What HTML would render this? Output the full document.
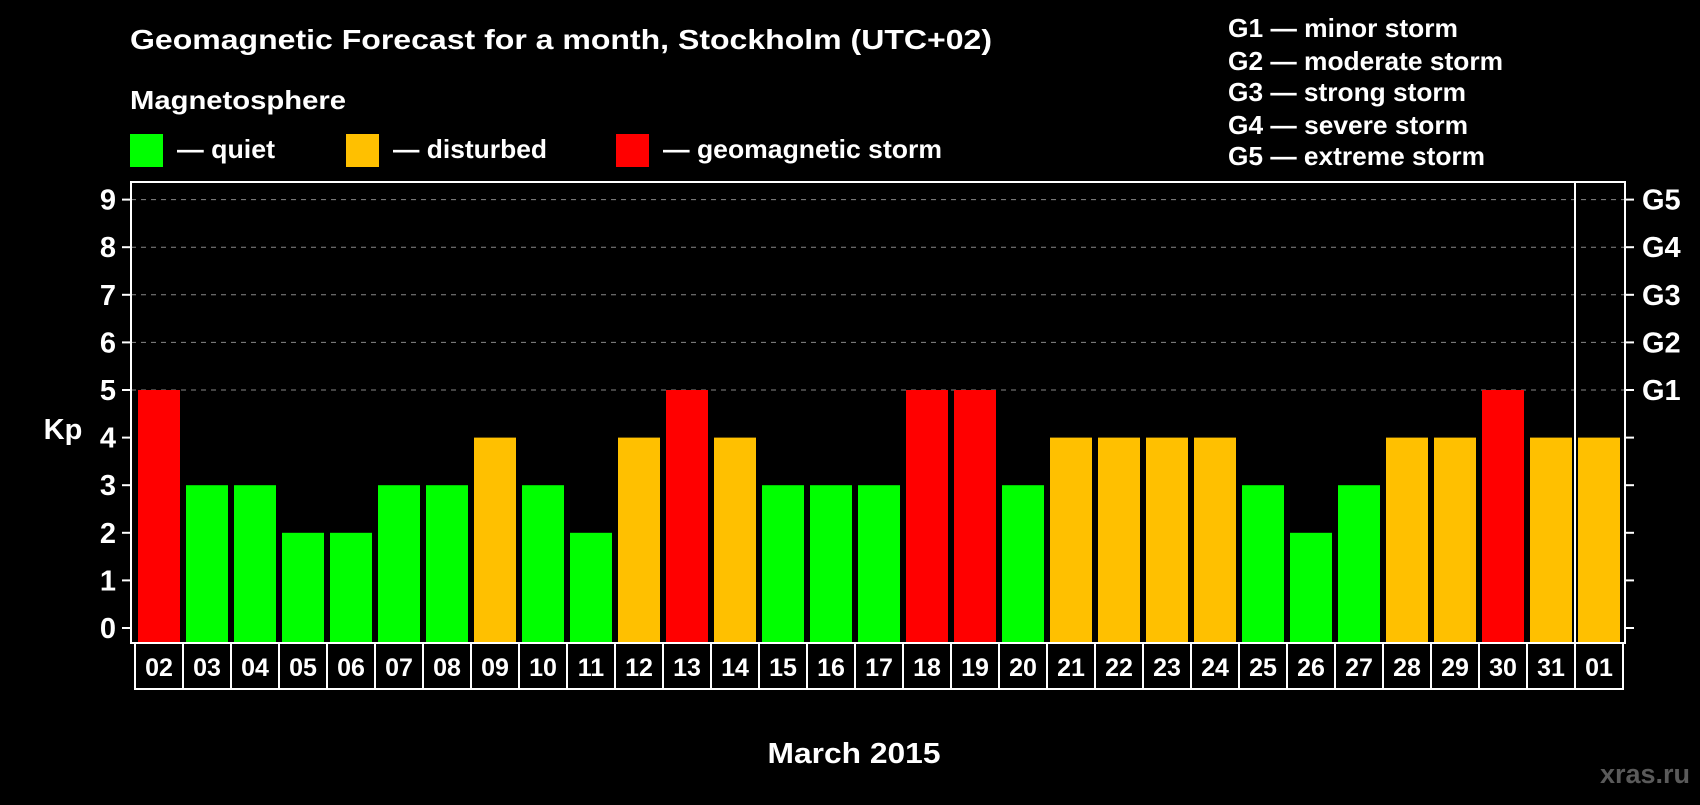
<!DOCTYPE html>
<html><head><meta charset="utf-8"><style>
body{margin:0;background:#000;width:1700px;height:800px;overflow:hidden;font-family:"Liberation Sans",sans-serif;}
text{font-family:"Liberation Sans",sans-serif;font-weight:bold;fill:#fff;}
</style></head><body>
<svg id="chart" width="1700" height="800" xmlns="http://www.w3.org/2000/svg">
<text x="130" y="49" font-size="28" textLength="862" lengthAdjust="spacingAndGlyphs">Geomagnetic Forecast for a month, Stockholm (UTC+02)</text>
<text x="130" y="109" font-size="26" textLength="216" lengthAdjust="spacingAndGlyphs">Magnetosphere</text>
<g><rect x="130" y="134" width="33" height="33" fill="#00ff00"/><text x="177" y="158" font-size="26" textLength="98" lengthAdjust="spacingAndGlyphs">— quiet</text></g>
<g><rect x="346" y="134" width="33" height="33" fill="#ffc000"/><text x="393" y="158" font-size="26" textLength="154" lengthAdjust="spacingAndGlyphs">— disturbed</text></g>
<g><rect x="616" y="134" width="33" height="33" fill="#ff0000"/><text x="663" y="158" font-size="26" textLength="279" lengthAdjust="spacingAndGlyphs">— geomagnetic storm</text></g>
<g font-size="26">
<text x="1228" y="37" textLength="230" lengthAdjust="spacingAndGlyphs">G1 — minor storm</text>
<text x="1228" y="70" textLength="275" lengthAdjust="spacingAndGlyphs">G2 — moderate storm</text>
<text x="1228" y="101" textLength="238" lengthAdjust="spacingAndGlyphs">G3 — strong storm</text>
<text x="1228" y="134" textLength="240" lengthAdjust="spacingAndGlyphs">G4 — severe storm</text>
<text x="1228" y="165" textLength="257" lengthAdjust="spacingAndGlyphs">G5 — extreme storm</text>
</g>
<g id="grid"></g>
<g id="bars"></g>
<rect x="131" y="182" width="1494" height="461" fill="none" stroke="#fff" stroke-width="2"/>
<line x1="1575" y1="182" x2="1575" y2="643" stroke="#fff" stroke-width="2"/>
<g id="axes"></g>
<g id="xlabels"></g>
<text x="63" y="439" font-size="29" text-anchor="middle">Kp</text>
<text x="854" y="763" font-size="29" text-anchor="middle" textLength="173" lengthAdjust="spacingAndGlyphs">March 2015</text>
<text x="1690" y="783" font-size="27" text-anchor="end" style="fill:#5a5a5a">xras.ru</text>
</svg>
<script>
const days=["02","03","04","05","06","07","08","09","10","11","12","13","14","15","16","17","18","19","20","21","22","23","24","25","26","27","28","29","30","31","01"];
const kp=[5,3,3,2,2,3,3,4,3,2,4,5,4,3,3,3,5,5,3,4,4,4,4,3,2,3,4,4,5,4,4];
const yTicks=[0,1,2,3,4,5,6,7,8,9];
const gLabels=["G1","G2","G3","G4","G5"];
const NS="http://www.w3.org/2000/svg";
const y=v=>628-v*47.6;
const x=i=>135+i*48;
function mk(t,a,p){const e=document.createElementNS(NS,t);for(const k in a)e.setAttribute(k,a[k]);p.appendChild(e);return e;}
const grid=document.getElementById('grid'),bars=document.getElementById('bars'),axes=document.getElementById('axes'),xl=document.getElementById('xlabels');
yTicks.forEach(v=>{
 if(v>=5){const g=mk('line',{x1:131,x2:1625,y1:y(v),y2:y(v),stroke:'#888','stroke-dasharray':'5,5','stroke-width':1},grid);
 
 }
 const tl=mk('line',{x1:122,x2:131,y1:y(v),y2:y(v),stroke:'#fff','stroke-width':2},axes);
 
 
 const tr=mk('line',{x1:1625,x2:1634,y1:y(v),y2:y(v),stroke:'#fff','stroke-width':2},axes);
 
 
 const t=mk('text',{x:116,y:y(v)+10,'font-size':29,'text-anchor':'end'},axes);t.textContent=v;
 
 
});
gLabels.forEach((g,i)=>{const t=mk('text',{x:1642,y:y(5+i)+10,'font-size':29},axes);t.textContent=g;
 
 });
kp.forEach((v,i)=>{
 const c=v>=5?'#ff0000':v>=4?'#ffc000':'#00ff00';
 const r=mk('rect',{x:x(i)+3,y:y(v),width:42,height:y(0)-y(v)+14,fill:c},bars);
 
 
 const b=mk('rect',{x:x(i),y:643,width:48,height:46,fill:'none',stroke:'#fff','stroke-width':2},xl);
 
 
 const t=mk('text',{x:x(i)+24,y:676,'font-size':25,'text-anchor':'middle'},xl);t.textContent=days[i];
 
 
});
</script>
</body></html>
